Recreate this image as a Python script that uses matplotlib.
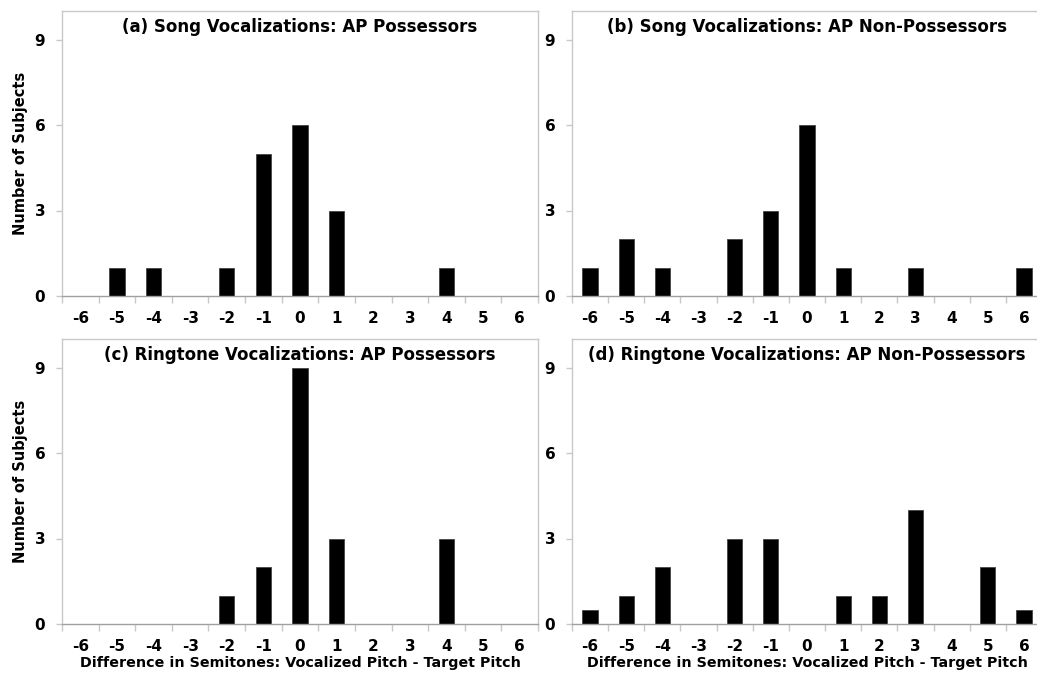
import numpy as np
from matplotlib import pyplot as plt

# semitone difference categories
semitones=np.arange(-6,7)

# number of subjects per category
song_ap=[0,1,1,0,1,5,6,3,0,0,1,0,0]
song_nonap=[1,2,1,0,2,3,6,1,0,1,0,0,1]
ring_ap=[0,0,0,0,1,2,9,3,0,0,3,0,0]
ring_nonap=[0.5,1,2,0,3,3,0,1,1,4,0,2,0.5]

titles=['(a) Song Vocalizations: AP Possessors',
        '(b) Song Vocalizations: AP Non-Possessors',
        '(c) Ringtone Vocalizations: AP Possessors',
        '(d) Ringtone Vocalizations: AP Non-Possessors']
yticks=[0,3,6,9]
xlabel='Difference in Semitones: Vocalized Pitch - Target Pitch'
ylabel='Number of Subjects'

W,H=1037,676
# axes boxes in pixels: left, top, right, bottom (y=0 line)
boxes=[(62,11,538,296),(572,11,1042,296),
       (62,339,538,624),(572,339,1042,624)]
data=[song_ap,song_nonap,ring_ap,ring_nonap]

fig=plt.figure(figsize=(W/100,H/100),dpi=100)
framecol='#c8c8c8'
for k in range(4):
    l,t,r,b=boxes[k]
    ax=fig.add_axes([l/W,1-b/H,(r-l)/W,(b-t)/H])
    ax.bar(semitones,data[k],width=0.42,color='k',edgecolor='#444444',linewidth=0.6)
    ax.set_xlim(-6.5,6.5)
    ax.set_ylim(0,10)
    ax.set_yticks(yticks)
    ax.set_xticks(semitones)
    ax.set_xticklabels([str(s) for s in semitones])
    ax.set_xticks(np.arange(-6.5,7.0,1.0),minor=True)
    ax.tick_params(axis='x',which='major',length=0,pad=11,labelsize=11)
    ax.tick_params(axis='x',which='minor',length=5,color=framecol,width=1)
    ax.tick_params(axis='y',length=4,color=framecol,width=1,pad=8,labelsize=11)
    for lab in ax.get_xticklabels()+ax.get_yticklabels():
        lab.set_fontweight('bold')
    for s in ['top','left','right']:
        ax.spines[s].set_color(framecol)
        ax.spines[s].set_linewidth(1)
    ax.spines['bottom'].set_color('#a0a0a0')
    ax.spines['bottom'].set_linewidth(1)
    ax.text(0.5,0.945,titles[k],transform=ax.transAxes,ha='center',va='center',
            fontsize=12,fontweight='bold')
    if k>=2:
        ax.set_xlabel(xlabel,fontsize=10.3,fontweight='bold',labelpad=1)
    if k%2==0:
        ax.set_ylabel(ylabel,fontsize=10.5,fontweight='bold',labelpad=5)

plt.savefig('out.png',dpi=100)
